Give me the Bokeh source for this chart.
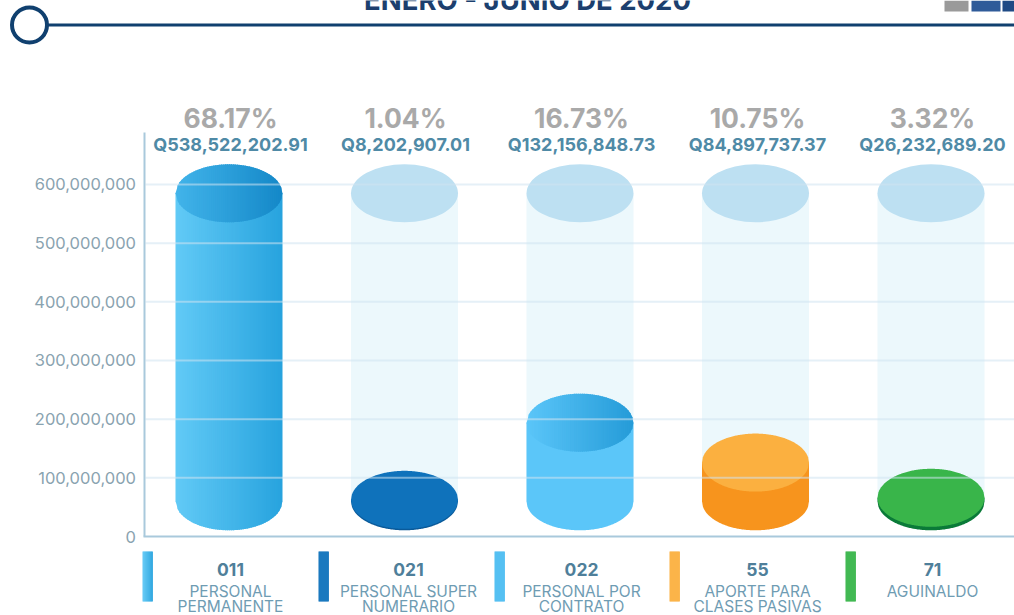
import math
from bokeh.plotting import figure
from bokeh.models import LinearAxis, FixedTicker, NumeralTickFormatter, Range1d
from bokeh.core.properties import value
from bokeh.embed import file_html
from bokeh.resources import INLINE

# ---- data ----
codes = ["011", "021", "022", "55", "71"]
label_line1 = ["PERSONAL", "PERSONAL SUPER", "PERSONAL POR", "APORTE PARA", "AGUINALDO"]
label_line2 = ["PERMANENTE", "NUMERARIO", "CONTRATO", "CLASES PASIVAS", ""]
percents = ["68.17%", "1.04%", "16.73%", "10.75%", "3.32%"]
amounts = ["Q538,522,202.91", "Q8,202,907.01", "Q132,156,848.73", "Q84,897,737.37", "Q26,232,689.20"]
# height of each cylinder's top centre as drawn against the axis
drawn_top = [585e6, 62.5e6, 194e6, 126e6, 66e6]
drawn_base = 60e6
ghost_top = 585e6
y_ticks = [0, 100e6, 200e6, 300e6, 400e6, 500e6, 600e6]
title = "ENERO - JUNIO DE 2020"

# colours: body left/right, top left/right
body_l = ["#62caf6", "#0a5a9a", "#5bc6f9", "#f7941d", "#0a7a38"]
body_r = ["#27a3de", "#0a5a9a", "#5bc6f9", "#f7941d", "#0a7a38"]
top_l = ["#42b4ea", "#0f72bb", "#5bc6f9", "#fbb040", "#39b54a"]
top_r = ["#1488c8", "#0f72bb", "#259bd8", "#fbb040", "#39b54a"]
leg_l = ["#5ec8f5", "#0f72bb", "#4dbdf2", "#fbb040", "#39b54a"]
leg_r = ["#2aa5e0", "#0f72bb", "#4dbdf2", "#fbb040", "#39b54a"]

W, H = 1014, 615
SLOT = 175.5
X0 = 228.5
Y0 = 536.0
PX_PER_UNIT = 58.67 / 100e6


def xd(px):
    return (px - X0) / SLOT


def yd(py):
    return (Y0 - py) / PX_PER_UNIT


p = figure(width=W, height=H, output_backend="svg", toolbar_location=None,
           x_range=Range1d(xd(0), xd(W)), y_range=Range1d(yd(H), yd(0)),
           min_border=0, outline_line_color=None, margin=(0, 0, 0, 0),
           x_axis_location=None, y_axis_location=None)
p.grid.visible = False

HALF_W = 53.5 / SLOT
SEMI_H = 29 / 58.67 * 100e6
N = 54


def mix(a, b, t):
    ca = [int(a[i:i + 2], 16) for i in (1, 3, 5)]
    cb = [int(b[i:i + 2], 16) for i in (1, 3, 5)]
    return "#%02x%02x%02x" % tuple(round(u + (v - u) * t) for u, v in zip(ca, cb))


def edge(u):
    return SEMI_H * math.sqrt(max(0.0, 1 - u * u))


def strips(cx, low_fn, high_fn, c0, c1):
    """Fill between two curves; a gradient uses overlapping trapezoids, a flat colour one outline."""
    if c0 == c1:
        us = [-1 + 2 * k / 120 for k in range(121)]
        xs = [cx + u * HALF_W for u in us] + [cx + u * HALF_W for u in reversed(us)]
        ys = [low_fn(u) for u in us] + [high_fn(u) for u in reversed(us)]
        p.patch(xs, ys, fill_color=c0, line_color=None)
        return
    xs, ys, cols = [], [], []
    for k in range(N):
        ua, ub = -1 + 2 * k / N, -1 + 2 * (k + 1) / N
        ub2 = min(1.0, ub + 1.0 / 53.5)
        xa, xb = cx + ua * HALF_W, cx + ub2 * HALF_W
        xs.append([xa, xb, xb, xa])
        ys.append([low_fn(ua), low_fn(ub2), high_fn(ub2), high_fn(ua)])
        cols.append(mix(c0, c1, (k + .5) / N))
    p.patches(xs, ys, fill_color=cols, line_color=None)


# ghost columns
for i in range(1, 5):
    p.quad(left=[i - HALF_W], right=[i + HALF_W], bottom=[drawn_base], top=[ghost_top],
           fill_color="#ecf8fc", line_color=None)
    p.ellipse(x=[i], y=[ghost_top], width=2 * HALF_W, height=2 * SEMI_H,
              fill_color="#bde0f2", line_color=None)

# cylinders
for i, t in enumerate(drawn_top):
    strips(i, lambda u: drawn_base - edge(u), lambda u: t, body_l[i], body_r[i])
    strips(i, lambda u: t - edge(u), lambda u: t + edge(u), top_l[i], top_r[i])

# grid lines across everything
p.segment(x0=[xd(145)] * 6, x1=[xd(W)] * 6, y0=y_ticks[1:], y1=y_ticks[1:],
          line_color="#cfe4f1", line_width=2, line_alpha=0.55)

# axes
y_axis = LinearAxis(ticker=FixedTicker(ticks=y_ticks), fixed_location=xd(143.5),
                    formatter=NumeralTickFormatter(format="0,0"),
                    bounds=(0, yd(132)), major_tick_line_color=None, minor_tick_line_color=None,
                    axis_line_color="#a9c9dc", axis_line_width=2,
                    major_label_standoff=2, major_label_text_color="#8aa3b0",
                    major_label_text_font="Inter", major_label_text_font_size="16.5px")
p.add_layout(y_axis, "left")
x_axis = LinearAxis(ticker=FixedTicker(ticks=[]), fixed_location=0,
                    bounds=(xd(143), xd(W)), major_tick_line_color=None, minor_tick_line_color=None,
                    axis_line_color="#a9c9dc", axis_line_width=2)
p.add_layout(x_axis, "below")

# header
p.text(x=[xd(527)], y=[yd(-0.5)], text=[title], text_font=value("Inter"), text_font_style="bold",
       text_font_size="27.5px", text_color="#1c3f6e", text_align="center", text_baseline="alphabetic")
p.segment(x0=[xd(40)], x1=[xd(W)], y0=[yd(24.5)], y1=[yd(24.5)], line_color="#10406f", line_width=3)
p.scatter(x=[xd(29)], y=[yd(24.5)], size=35, marker="circle", fill_color="white",
          line_color="#10406f", line_width=4)
p.quad(left=[xd(944), xd(971), xd(1002)], right=[xd(968), xd(1000), xd(W)],
       top=[yd(0)] * 3, bottom=[yd(11)] * 3,
       fill_color=["#9a9a9a", "#2f5b99", "#1f4a85"], line_color=None)

pct_x = [xd(v) for v in (230, 405, 581, 757, 932)]
amt_x = [xd(v) for v in (230, 405, 581, 757, 932)]
leg_x = [xd(v) for v in (230, 408, 581, 757, 932)]

p.text(x=pct_x, y=[yd(117)] * 5, text=percents, text_font=value("Inter"), text_font_style="bold",
       text_font_size="26.5px", text_color="#a9a9a9", text_align="center", text_baseline="middle")
p.text(x=amt_x, y=[yd(144)] * 5, text=amounts, text_font=value("Inter"), text_font_style="bold",
       text_font_size="18px", text_color="#4f8aa6", text_align="center", text_baseline="middle")

# legend
for i, lx in enumerate((142, 318, 494, 669, 845)):
    steps = 10
    for k in range(steps):
        p.quad(left=[xd(lx + k)], right=[xd(lx + k + 1.4)], top=[yd(551)], bottom=[yd(601)],
               fill_color=mix(leg_l[i], leg_r[i], k / (steps - 1)), line_color=None)

p.text(x=leg_x, y=[yd(569)] * 5, text=codes, text_font=value("Inter"), text_font_style="bold",
       text_font_size="17.5px", text_color="#4f7f9a", text_align="center", text_baseline="middle")
p.text(x=leg_x, y=[yd(590.5)] * 5, text=label_line1, text_font=value("Inter"),
       text_font_size="15.5px", text_color="#6f9cb3", text_align="center", text_baseline="middle")
p.text(x=leg_x, y=[yd(605.5)] * 5, text=label_line2, text_font=value("Inter"),
       text_font_size="15.5px", text_color="#6f9cb3", text_align="center", text_baseline="middle")

html = file_html(p, INLINE)
open("out.html", "w").write(html)
